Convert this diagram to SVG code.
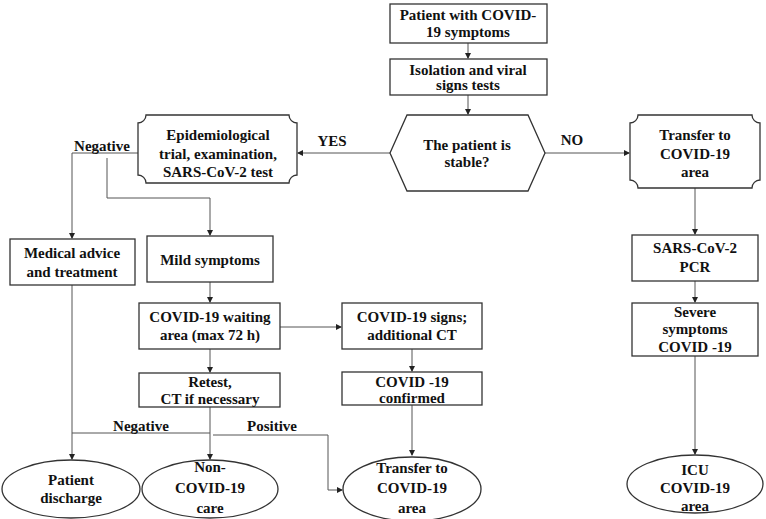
<svg xmlns="http://www.w3.org/2000/svg" width="766" height="519" viewBox="0 0 766 519">
<defs>
<marker id="arr" markerWidth="6" markerHeight="6" refX="5" refY="3" orient="auto" markerUnits="userSpaceOnUse">
<path d="M0,0 L6,3 L0,6 Z" fill="#222"/>
</marker>
<style>
.box{fill:#fff;stroke:#333;stroke-width:1.3}
.c{fill:none;stroke:#555;stroke-width:1}
</style>
</defs>
<rect width="766" height="519" fill="#fff"/>
<g font-family="Liberation Serif, Times New Roman, serif" font-weight="bold" font-size="15" fill="#111" text-anchor="middle">
<g id="connectors">
<path class="c" d="M468,43 V58" marker-end="url(#arr)"/>
<path class="c" d="M468,95 V114" marker-end="url(#arr)"/>
<path class="c" d="M390,153 H298" marker-end="url(#arr)"/>
<path class="c" d="M545,153 H629" marker-end="url(#arr)"/>
<path class="c" d="M695,188 V234" marker-end="url(#arr)"/>
<path class="c" d="M695,281 V302" marker-end="url(#arr)"/>
<path class="c" d="M695,356 V454" marker-end="url(#arr)"/>
<path class="c" d="M138,153 H72 V238" marker-end="url(#arr)"/>
<path class="c" d="M107,158 V198 H210 V235" marker-end="url(#arr)"/>
<path class="c" d="M210,282 V302" marker-end="url(#arr)"/>
<path class="c" d="M280,327 H341" marker-end="url(#arr)"/>
<path class="c" d="M412,349 V371" marker-end="url(#arr)"/>
<path class="c" d="M210,349 V372" marker-end="url(#arr)"/>
<path class="c" d="M72,285 V459" marker-end="url(#arr)"/>
<path class="c" d="M72,433 H210"/>
<path class="c" d="M210,407 V459" marker-end="url(#arr)"/>
<path class="c" d="M213,435 H328 V490 H342" marker-end="url(#arr)"/>
<path class="c" d="M412,405 V455" marker-end="url(#arr)"/>
<text x="332" y="146">YES</text>
<text x="572" y="145">NO</text>
<text x="102" y="151">Negative</text>
<text x="141" y="431">Negative</text>
<text x="272" y="431">Positive</text>
</g>
<g id="n1"><rect class="box" x="390" y="4" width="157" height="39"/>
<text x="468" y="20">Patient with COVID-</text><text x="468" y="37">19 symptoms</text></g>
<g id="n2"><rect class="box" x="390" y="59" width="157" height="36"/>
<text x="468" y="75">Isolation and viral</text><text x="468" y="90">signs tests</text></g>
<g id="n3"><path class="box" d="M390,153 L407,115 H528 L545,153 L528,191 H407 Z"/>
<text x="467" y="150">The patient is</text><text x="467" y="167">stable?</text></g>
<g id="n4"><path class="box" d="M146,115 H289 A8,8 0 0 0 297,123 V175 A8,8 0 0 0 289,183 H146 A8,8 0 0 0 138,175 V123 A8,8 0 0 0 146,115 Z"/>
<text x="218" y="140">Epidemiological</text><text x="218" y="159">trial, examination,</text><text x="218" y="177">SARS-CoV-2  test</text></g>
<g id="n5"><path class="box" d="M638,115 H752 A8,8 0 0 0 760,123 V180 A8,8 0 0 0 752,188 H638 A8,8 0 0 0 630,180 V123 A8,8 0 0 0 638,115 Z"/>
<text x="695" y="140">Transfer to</text><text x="695" y="159">COVID-19</text><text x="695" y="177">area</text></g>
<g id="n6"><rect class="box" x="632" y="235" width="126" height="46"/>
<text x="695" y="253">SARS-CoV-2</text><text x="695" y="272">PCR</text></g>
<g id="n7"><rect class="box" x="632" y="303" width="126" height="53"/>
<text x="695" y="317">Severe</text><text x="695" y="334">symptoms</text><text x="695" y="352">COVID -19</text></g>
<g id="n8"><ellipse class="box" cx="695" cy="484" rx="68" ry="29"/>
<text x="695" y="475">ICU</text><text x="695" y="493">COVID-19</text><text x="695" y="511">area</text></g>
<g id="n9"><rect class="box" x="10" y="239" width="125" height="46"/>
<text x="72" y="258">Medical advice</text><text x="72" y="277">and treatment</text></g>
<g id="n10"><rect class="box" x="147" y="236" width="126" height="46"/>
<text x="210" y="265">Mild symptoms</text></g>
<g id="n11"><rect class="box" x="139" y="303" width="141" height="46"/>
<text x="210" y="322">COVID-19 waiting</text><text x="210" y="340">area (max 72 h)</text></g>
<g id="n12"><rect class="box" x="342" y="303" width="140" height="46"/>
<text x="412" y="322">COVID-19 signs;</text><text x="412" y="340">additional  CT</text></g>
<g id="n13"><rect class="box" x="139" y="373" width="141" height="34"/>
<text x="210" y="387">Retest,</text><text x="210" y="404">CT if necessary</text></g>
<g id="n14"><rect class="box" x="342" y="372" width="140" height="33"/>
<text x="412" y="387">COVID -19</text><text x="412" y="403">confirmed</text></g>
<g id="n15"><ellipse class="box" cx="71" cy="489" rx="69" ry="29"/>
<text x="71" y="485">Patient</text><text x="71" y="503">discharge</text></g>
<g id="n16"><ellipse class="box" cx="210" cy="489" rx="68" ry="29"/>
<text x="210" y="472">Non-</text><text x="210" y="493">COVID-19</text><text x="210" y="513">care</text></g>
<g id="n17"><ellipse class="box" cx="412" cy="489" rx="69" ry="32"/>
<text x="412" y="473">Transfer to</text><text x="412" y="493">COVID-19</text><text x="412" y="513">area</text></g>
</g>
</svg>
